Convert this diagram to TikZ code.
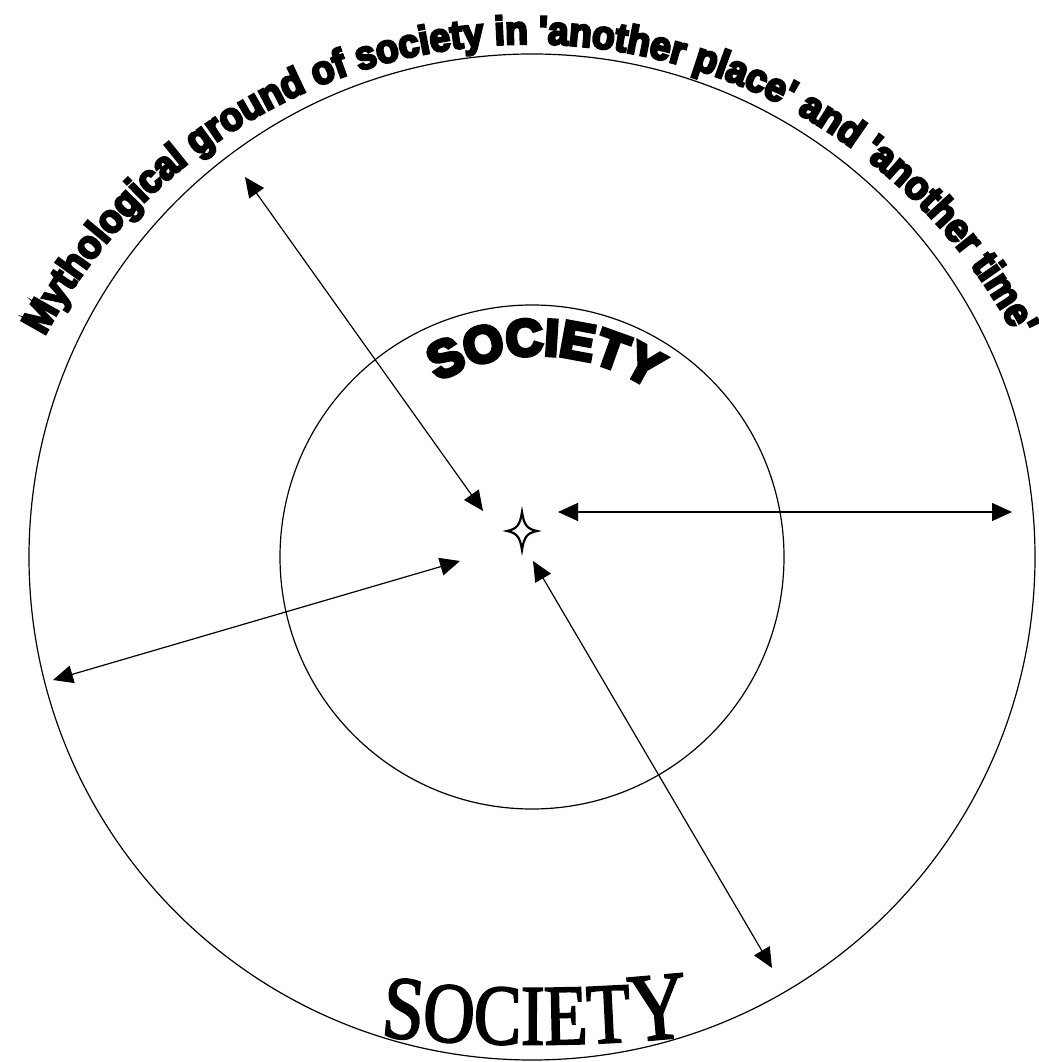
\documentclass[tikz,border=0pt]{standalone}
\usepackage{fontspec}
\usetikzlibrary{arrows.meta,decorations.text}
\newfontfamily\heavyfont{Liberation Sans Bold}[FakeBold=6,FakeStretch=0.93,Ligatures=TeXOff]
\newfontfamily\heavierfont{Liberation Sans Bold}[FakeBold=8,Ligatures=TeXOff]
\newfontfamily\serifsoc{Liberation Serif}[FakeStretch=0.83,FakeBold=2]
\tikzset{
  ring/.style={draw=black, line width=1.2pt},
  dblarrow/.style={line width=1.2pt, {Triangle[length=20pt,width=18pt]}-{Triangle[length=20pt,width=18pt]}},
  starshape/.style={draw=black, fill=white, line width=2.2pt, line join=miter}
}
\begin{document}
\begin{tikzpicture}[x=1pt,y=1pt]
\useasboundingbox (0,0) rectangle (1038,1062);
% circles
\node[ring, circle, minimum size=1006pt, inner sep=0pt] (outer) at (532,505) {};
\node[ring, circle, minimum size=504pt, inner sep=0pt] (inner) at (532,505) {};
% outer curved text
\path[decorate, decoration={text along path, text align=center,
  text={|\heavyfont\fontsize{40}{43}\selectfont|Mythological ground of society in 'another place' and 'another time'}}]
  (530,469) ++(170:549) arc[start angle=170, end angle=10, radius=549];
% inner curved text
\path[decorate, decoration={text along path, text align=center,
  text={|\heavierfont\fontsize{51}{54}\selectfont|SOCIETY}}]
  (538,505) ++(140:202) arc[start angle=140, end angle=36, radius=202];
% bottom text
\path[decorate, decoration={text along path, text align=center,
  text={|\serifsoc\fontsize{90}{94}\selectfont|S|\serifsoc\fontsize{86}{90}\selectfont|OCIET|\serifsoc\fontsize{97}{100}\selectfont|Y}}]
  (340,31) .. controls (460,13) and (610,13) .. (730,31);
% star
\coordinate (star) at (522,531);
\path[starshape] (522,550) .. controls (524,537) and (527,533) .. (537,531)
  .. controls (527,529) and (524,525) .. (522,512)
  .. controls (520,525) and (517,529) .. (507,531)
  .. controls (517,533) and (520,537) .. (522,550) -- cycle;
% arrow end points
\coordinate (a1s) at (245,885);
\coordinate (a1e) at (483,551);
\coordinate (a2s) at (558,550);
\coordinate (a2e) at (1012,550);
\coordinate (a3s) at (53,382);
\coordinate (a3e) at (460,501);
\coordinate (a4s) at (533,501);
\coordinate (a4e) at (772,94);
\draw[dblarrow] (a1s) -- (a1e);
\draw[dblarrow] (a2s) -- (a2e);
\draw[dblarrow] (a3s) -- (a3e);
\draw[dblarrow] (a4s) -- (a4e);
\end{tikzpicture}
\end{document}
